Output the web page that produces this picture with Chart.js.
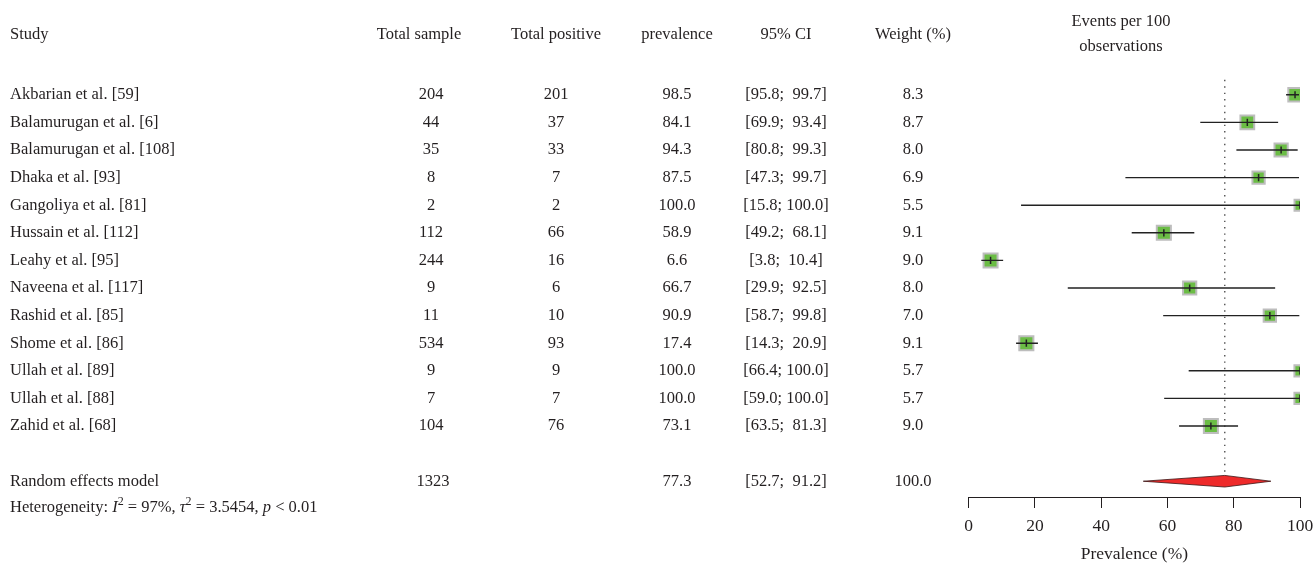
<!DOCTYPE html>
<html>
<head>
<meta charset="utf-8">
<title>Forest plot – prevalence</title>
<script src="https://cdn.jsdelivr.net/npm/chart.js@4.4.1/dist/chart.umd.min.js"></script>
<style>
  html, body { margin: 0; padding: 0; background: #ffffff; }
  #wrap { width: 1316px; height: 566px; position: relative; }
</style>
</head>
<body>
<div id="wrap"><canvas id="forest" width="1316" height="566"></canvas></div>
<script>
// ---- study data ----
const studies = [
  'Akbarian et al. [59]', 'Balamurugan et al. [6]', 'Balamurugan et al. [108]',
  'Dhaka et al. [93]', 'Gangoliya et al. [81]', 'Hussain et al. [112]',
  'Leahy et al. [95]', 'Naveena et al. [117]', 'Rashid et al. [85]',
  'Shome et al. [86]', 'Ullah et al. [89]', 'Ullah et al. [88]', 'Zahid et al. [68]'
];
const totalSample   = [204, 44, 35, 8, 2, 112, 244, 9, 11, 534, 9, 7, 104];
const totalPositive = [201, 37, 33, 7, 2, 66, 16, 6, 10, 93, 9, 7, 76];
const prevalence    = [98.5, 84.1, 94.3, 87.5, 100.0, 58.9, 6.6, 66.7, 90.9, 17.4, 100.0, 100.0, 73.1];
const ciLower       = [95.8, 69.9, 80.8, 47.3, 15.8, 49.2, 3.8, 29.9, 58.7, 14.3, 66.4, 59.0, 63.5];
const ciUpper       = [99.7, 93.4, 99.3, 99.7, 100.0, 68.1, 10.4, 92.5, 99.8, 20.9, 100.0, 100.0, 81.3];
const weights       = [8.3, 8.7, 8.0, 6.9, 5.5, 9.1, 9.0, 8.0, 7.0, 9.1, 5.7, 5.7, 9.0];

// ---- pooled estimate ----
const pooledLabel  = 'Random effects model';
const pooledTotal  = 1323;
const pooledEst    = 77.3;
const pooledLower  = 52.7;
const pooledUpper  = 91.2;
const pooledWeight = 100.0;
const heterogeneity = { i2: '97%', tau2: '3.5454', p: '< 0.01' };

// ---- axis ----
const xTicks = [0, 20, 40, 60, 80, 100];

// ---- layout / style ----
const FONT = '"Liberation Serif", "DejaVu Serif", serif';
const INK = '#231f20';
const BODY = 16.5;
const pooledRow = 14;          // pooled row sits two rows below the last study
const diamondHalf = 0.21;      // diamond half-height in row units
const cols = { sample: 431, positive: 556, prev: 677, ci: 786, weight: 913 };

const fmt1 = v => v.toFixed(1);
const fmtCI = (lo, hi) => '[' + fmt1(lo) + '; ' + fmt1(hi).padStart(5, ' ') + ']';

// CI segments, separated by gaps
const ciData = [];
studies.forEach((_, i) => {
  ciData.push({ x: ciLower[i], y: i }, { x: ciUpper[i], y: i }, { x: null, y: null });
});

const squareData = prevalence.map((v, i) => ({ x: v, y: i }));
const estData = prevalence.map((v, i) => ({ x: v, y: i }));

const diamondData = [
  { x: pooledLower, y: pooledRow },
  { x: pooledEst, y: pooledRow - diamondHalf },
  { x: pooledUpper, y: pooledRow },
  { x: pooledEst, y: pooledRow + diamondHalf },
  { x: pooledLower, y: pooledRow }
];

const refLine = [{ x: pooledEst, y: -0.54 }, { x: pooledEst, y: pooledRow + diamondHalf }];

// table text, headers and heterogeneity line
const tablePlugin = {
  id: 'forestTable',
  afterDraw(chart) {
    const { ctx } = chart;
    const ys = chart.scales.y;
    const font = (size, style) => (style ? style + ' ' : '') + size + 'px ' + FONT;
    ctx.save();
    ctx.fillStyle = INK;
    ctx.textBaseline = 'middle';

    const put = (txt, x, y, align) => { ctx.textAlign = align; ctx.fillText(txt, x, y); };

    // headers
    ctx.font = font(BODY);
    const hy = 35;
    put('Study', 10, hy, 'left');
    put('Total sample', cols.sample - 12, hy, 'center');
    put('Total positive', cols.positive, hy, 'center');
    put('prevalence', cols.prev, hy, 'center');
    put('95% CI', cols.ci, hy, 'center');
    put('Weight (%)', cols.weight, hy, 'center');
    put('Events per 100', 1121, 22, 'center');
    put('observations', 1121, 47, 'center');

    // study rows
    studies.forEach((name, i) => {
      const y = ys.getPixelForValue(i);
      put(name, 10, y, 'left');
      put(String(totalSample[i]), cols.sample, y, 'center');
      put(String(totalPositive[i]), cols.positive, y, 'center');
      put(fmt1(prevalence[i]), cols.prev, y, 'center');
      put(fmtCI(ciLower[i], ciUpper[i]), cols.ci, y, 'center');
      put(fmt1(weights[i]), cols.weight, y, 'center');
    });

    // pooled row
    const py = ys.getPixelForValue(pooledRow);
    put(pooledLabel, 10, py, 'left');
    put(String(pooledTotal), cols.sample + 2, py, 'center');
    put(fmt1(pooledEst), cols.prev, py, 'center');
    put(fmtCI(pooledLower, pooledUpper), cols.ci, py, 'center');
    put(fmt1(pooledWeight), cols.weight, py, 'center');

    // heterogeneity statement with italics and superscripts
    const hy2 = ys.getPixelForValue(pooledRow + 0.96);
    let x = 10;
    ctx.textAlign = 'left';
    const run = (txt, style, size, dy) => {
      ctx.font = font(size, style);
      ctx.fillText(txt, x, hy2 + (dy || 0));
      x += ctx.measureText(txt).width;
    };
    run('Heterogeneity: ', '', BODY);
    run('I', 'italic', BODY);
    run('2', '', 12, -6);
    run(' = ' + heterogeneity.i2 + ', ', '', BODY);
    run('\u03C4', 'italic', BODY);
    run('2', '', 12, -6);
    run(' = ' + heterogeneity.tau2 + ', ', '', BODY);
    run('p', 'italic', BODY);
    run(' ' + heterogeneity.p, '', BODY);

    ctx.restore();
  }
};

new Chart(document.getElementById('forest'), {
  type: 'scatter',
  data: {
    datasets: [
      {
        // pooled diamond
        type: 'line',
        data: diamondData,
        showLine: true,
        fill: 'shape',
        backgroundColor: '#ee2a2a',
        borderColor: '#3b1515',
        borderWidth: 0.8,
        pointRadius: 0,
        tension: 0,
        order: 1
      },
      {
        // point estimate marks
        data: estData,
        pointStyle: 'line',
        rotation: 90,
        pointRadius: 3.6,
        borderColor: '#222222',
        borderWidth: 1.5,
        order: 2
      },
      {
        // confidence intervals
        type: 'line',
        data: ciData,
        showLine: true,
        spanGaps: false,
        borderColor: '#222222',
        borderWidth: 1.4,
        pointRadius: 0,
        tension: 0,
        order: 3
      },
      {
        // weight squares
        data: squareData,
        pointStyle: 'rect',
        pointRadius: ctx => 3.3 * Math.sqrt(weights[ctx.dataIndex] || 0),
        backgroundColor: '#6bbd45',
        borderColor: '#bdbdbd',
        borderWidth: 2,
        order: 4
      },
      {
        // dotted line at the pooled estimate
        type: 'line',
        data: refLine,
        showLine: true,
        borderColor: '#333333',
        borderWidth: 1.2,
        borderDash: [1.4, 5],
        pointRadius: 0,
        order: 5
      }
    ]
  },
  options: {
    responsive: false,
    devicePixelRatio: 1,
    animation: false,
    events: [],
    layout: { padding: { left: 968.7, right: 16, top: 5, bottom: 0 } },
    plugins: { legend: { display: false }, tooltip: { enabled: false } },
    scales: {
      x: {
        type: 'linear',
        position: 'bottom',
        min: 0,
        max: 100,
        afterBuildTicks: s => { s.ticks = xTicks.map(v => ({ value: v })); },
        afterFit: s => {
          s.height = 69;
          s.paddingLeft = 0;
          s.paddingRight = 0;
        },
        ticks: {
          color: INK,
          padding: 8,
          font: { family: FONT, size: 17.5 },
          callback: v => String(v)
        },
        grid: {
          drawOnChartArea: false,
          drawTicks: true,
          tickLength: 11,
          color: INK,
          lineWidth: 1
        },
        border: { display: true, color: INK, width: 1 },
        title: {
          display: true,
          text: 'Prevalence (%)',
          color: INK,
          font: { family: FONT, size: 17.5 },
          padding: { top: 0, bottom: 1 }
        }
      },
      y: {
        type: 'linear',
        display: false,
        reverse: true,
        min: -3,
        max: 14.5714
      }
    }
  },
  plugins: [tablePlugin]
});
</script>
</body>
</html>
